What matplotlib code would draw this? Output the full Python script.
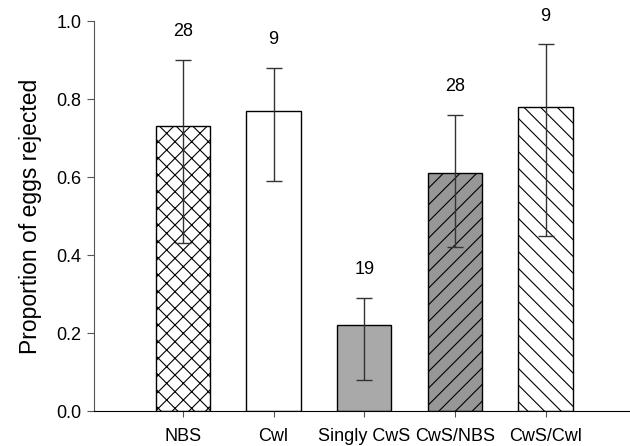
import matplotlib
matplotlib.use("Agg")
import matplotlib.pyplot as plt
import numpy as np

plt.rcParams['font.family'] = ['Liberation Sans', 'DejaVu Sans']
plt.rcParams['hatch.linewidth'] = 0.8

categories = ["NBS", "Cwl", "Singly CwS", "CwS/NBS", "CwS/Cwl"]
values = [0.73, 0.77, 0.22, 0.61, 0.78]
err_low = [0.43, 0.59, 0.08, 0.42, 0.45]
err_high = [0.90, 0.88, 0.29, 0.76, 0.94]
n_labels = ["28", "9", "19", "28", "9"]

facecolors = ["white", "white", "#a9a9a9", "#979797", "white"]
hatches = ["xx", "", "", "//", "\\\\"]

fig = plt.figure(figsize=(6.3, 4.46), dpi=100)
ax = fig.add_axes([94/630, 1 - 411/446, 1 - 94/630, 390/446])

x = np.arange(len(categories))
for i in range(len(categories)):
    ax.bar(x[i], values[i], width=0.6, color=facecolors[i], edgecolor="black",
           linewidth=1.0, hatch=hatches[i], zorder=2)

vals = np.array(values)
yerr = np.vstack([vals - np.array(err_low), np.array(err_high) - vals])
ax.errorbar(x, vals, yerr=yerr, fmt="none", ecolor="#333333", elinewidth=1.0,
            capsize=6, capthick=1.0, zorder=3)

for i in range(len(categories)):
    ax.text(x[i], err_high[i] + 0.072, n_labels[i], ha="center", va="center", fontsize=13)

ax.set_xlim(-0.98, 4.93)
ax.set_ylim(0, 1.0)
ax.set_yticks([0.0, 0.2, 0.4, 0.6, 0.8, 1.0])
ax.set_yticklabels(["0.0", "0.2", "0.4", "0.6", "0.8", "1.0"], fontsize=13)
ax.set_xticks(x)
ax.set_xticklabels(categories, fontsize=13)
ax.tick_params(axis="x", direction="out", length=4, pad=8, color="#555555")
ax.tick_params(axis="y", direction="out", length=5, pad=4, color="#555555")
ax.spines["top"].set_visible(False)
ax.spines["right"].set_visible(False)
ax.spines["left"].set_color("#555555")
ax.set_ylabel("Proportion of eggs rejected", fontsize=16.5, labelpad=10)

fig.savefig("out.png", dpi=100)
